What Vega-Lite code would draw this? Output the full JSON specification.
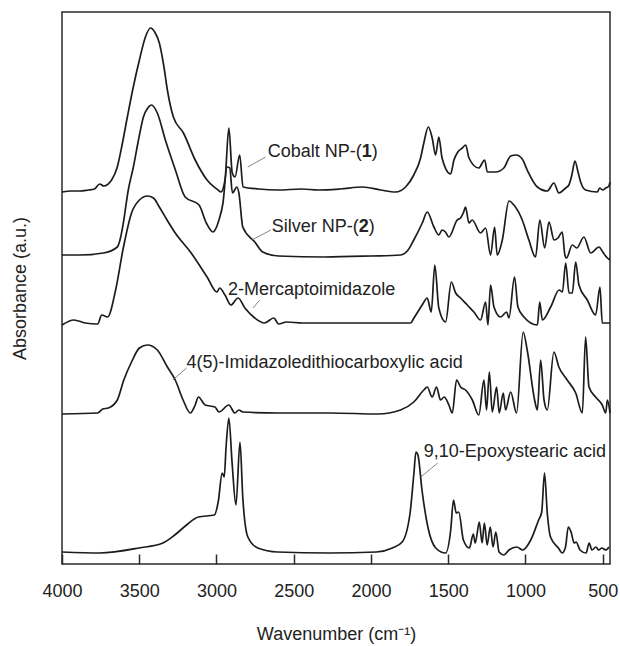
{
  "$schema": "https://vega.github.io/schema/vega-lite/v6.json",
  "width": 548,
  "height": 552,
  "autosize": {"type": "none"},
  "padding": {"left": 62, "top": 12, "right": 10, "bottom": 82},
  "background": "white",
  "config": {
    "view": {"stroke": "#2a2a2a", "strokeWidth": 1.5},
    "font": "Liberation Sans",
    "axis": {"labelFont": "Liberation Sans", "titleFont": "Liberation Sans", "labelFontSize": 18, "titleFontSize": 18, "titleFontWeight": "normal", "labelColor": "#222", "titleColor": "#222", "grid": false, "domain": false}
  },
  "datasets": {
    "spectra": [
      {"s":"cobalt","w":4000,"a":372},{"s":"cobalt","w":3940,"a":373},{"s":"cobalt","w":3885,"a":373},{"s":"cobalt","w":3830,"a":374},{"s":"cobalt","w":3790,"a":375},{"s":"cobalt","w":3756,"a":380},{"s":"cobalt","w":3730,"a":378},{"s":"cobalt","w":3679,"a":384},{"s":"cobalt","w":3642,"a":397},{"s":"cobalt","w":3610,"a":420},{"s":"cobalt","w":3577,"a":447},{"s":"cobalt","w":3540,"a":476},{"s":"cobalt","w":3499,"a":504},{"s":"cobalt","w":3460,"a":527},{"s":"cobalt","w":3427,"a":536},{"s":"cobalt","w":3400,"a":532},{"s":"cobalt","w":3370,"a":521},{"s":"cobalt","w":3340,"a":497},{"s":"cobalt","w":3318,"a":474},{"s":"cobalt","w":3279,"a":447},{"s":"cobalt","w":3214,"a":431},{"s":"cobalt","w":3138,"a":404},{"s":"cobalt","w":3061,"a":384},{"s":"cobalt","w":2990,"a":374},{"s":"cobalt","w":2971,"a":372},{"s":"cobalt","w":2945,"a":384},{"s":"cobalt","w":2920,"a":436},{"s":"cobalt","w":2898,"a":391},{"s":"cobalt","w":2880,"a":387},{"s":"cobalt","w":2850,"a":409},{"s":"cobalt","w":2828,"a":377},{"s":"cobalt","w":2727,"a":375},{"s":"cobalt","w":2600,"a":374},{"s":"cobalt","w":2450,"a":375},{"s":"cobalt","w":2340,"a":374},{"s":"cobalt","w":2200,"a":375},{"s":"cobalt","w":2054,"a":377},{"s":"cobalt","w":1938,"a":374},{"s":"cobalt","w":1841,"a":372},{"s":"cobalt","w":1776,"a":377},{"s":"cobalt","w":1723,"a":389},{"s":"cobalt","w":1679,"a":406},{"s":"cobalt","w":1658,"a":421},{"s":"cobalt","w":1629,"a":437},{"s":"cobalt","w":1604,"a":426},{"s":"cobalt","w":1582,"a":409},{"s":"cobalt","w":1561,"a":427},{"s":"cobalt","w":1540,"a":406},{"s":"cobalt","w":1485,"a":390},{"s":"cobalt","w":1463,"a":404},{"s":"cobalt","w":1438,"a":412},{"s":"cobalt","w":1409,"a":416},{"s":"cobalt","w":1387,"a":419},{"s":"cobalt","w":1366,"a":406},{"s":"cobalt","w":1303,"a":396},{"s":"cobalt","w":1264,"a":404},{"s":"cobalt","w":1247,"a":392},{"s":"cobalt","w":1194,"a":392},{"s":"cobalt","w":1140,"a":396},{"s":"cobalt","w":1096,"a":408},{"s":"cobalt","w":1060,"a":409},{"s":"cobalt","w":1021,"a":405},{"s":"cobalt","w":989,"a":394},{"s":"cobalt","w":923,"a":377},{"s":"cobalt","w":859,"a":373},{"s":"cobalt","w":816,"a":381},{"s":"cobalt","w":784,"a":371},{"s":"cobalt","w":740,"a":376},{"s":"cobalt","w":719,"a":379},{"s":"cobalt","w":700,"a":389},{"s":"cobalt","w":680,"a":403},{"s":"cobalt","w":660,"a":392},{"s":"cobalt","w":643,"a":382},{"s":"cobalt","w":611,"a":374},{"s":"cobalt","w":535,"a":372},{"s":"cobalt","w":520,"a":376},{"s":"cobalt","w":500,"a":374},{"s":"cobalt","w":480,"a":376},{"s":"cobalt","w":460,"a":378},{"s":"cobalt","w":453,"a":382},
      {"s":"silver","w":4000,"a":309},{"s":"silver","w":3885,"a":309},{"s":"silver","w":3732,"a":311},{"s":"silver","w":3642,"a":317},{"s":"silver","w":3620,"a":327},{"s":"silver","w":3603,"a":341},{"s":"silver","w":3571,"a":374},{"s":"silver","w":3538,"a":397},{"s":"silver","w":3505,"a":424},{"s":"silver","w":3473,"a":447},{"s":"silver","w":3445,"a":456},{"s":"silver","w":3421,"a":459},{"s":"silver","w":3383,"a":451},{"s":"silver","w":3331,"a":424},{"s":"silver","w":3266,"a":394},{"s":"silver","w":3203,"a":367},{"s":"silver","w":3113,"a":359},{"s":"silver","w":3066,"a":341},{"s":"silver","w":3023,"a":332},{"s":"silver","w":2984,"a":344},{"s":"silver","w":2958,"a":361},{"s":"silver","w":2932,"a":397},{"s":"silver","w":2914,"a":396},{"s":"silver","w":2897,"a":371},{"s":"silver","w":2868,"a":377},{"s":"silver","w":2855,"a":371},{"s":"silver","w":2830,"a":337},{"s":"silver","w":2752,"a":322},{"s":"silver","w":2701,"a":312},{"s":"silver","w":2598,"a":308},{"s":"silver","w":2300,"a":307},{"s":"silver","w":2000,"a":308},{"s":"silver","w":1809,"a":309},{"s":"silver","w":1760,"a":314},{"s":"silver","w":1723,"a":324},{"s":"silver","w":1668,"a":341},{"s":"silver","w":1636,"a":352},{"s":"silver","w":1593,"a":337},{"s":"silver","w":1561,"a":329},{"s":"silver","w":1540,"a":334},{"s":"silver","w":1518,"a":332},{"s":"silver","w":1496,"a":327},{"s":"silver","w":1442,"a":344},{"s":"silver","w":1420,"a":346},{"s":"silver","w":1400,"a":352},{"s":"silver","w":1388,"a":357},{"s":"silver","w":1366,"a":341},{"s":"silver","w":1345,"a":344},{"s":"silver","w":1291,"a":331},{"s":"silver","w":1258,"a":336},{"s":"silver","w":1226,"a":309},{"s":"silver","w":1200,"a":337},{"s":"silver","w":1183,"a":309},{"s":"silver","w":1150,"a":324},{"s":"silver","w":1107,"a":363},{"s":"silver","w":1075,"a":359},{"s":"silver","w":1021,"a":344},{"s":"silver","w":978,"a":324},{"s":"silver","w":935,"a":307},{"s":"silver","w":907,"a":344},{"s":"silver","w":876,"a":316},{"s":"silver","w":848,"a":342},{"s":"silver","w":815,"a":324},{"s":"silver","w":790,"a":326},{"s":"silver","w":762,"a":332},{"s":"silver","w":745,"a":309},{"s":"silver","w":735,"a":306},{"s":"silver","w":697,"a":319},{"s":"silver","w":668,"a":316},{"s":"silver","w":622,"a":327},{"s":"silver","w":578,"a":311},{"s":"silver","w":524,"a":317},{"s":"silver","w":500,"a":312},{"s":"silver","w":470,"a":306},{"s":"silver","w":453,"a":304},
      {"s":"merc","w":4000,"a":239},{"s":"merc","w":3923,"a":244},{"s":"merc","w":3850,"a":241},{"s":"merc","w":3769,"a":240},{"s":"merc","w":3743,"a":249},{"s":"merc","w":3705,"a":247},{"s":"merc","w":3653,"a":274},{"s":"merc","w":3602,"a":317},{"s":"merc","w":3550,"a":351},{"s":"merc","w":3499,"a":364},{"s":"merc","w":3447,"a":368},{"s":"merc","w":3408,"a":366},{"s":"merc","w":3370,"a":357},{"s":"merc","w":3320,"a":344},{"s":"merc","w":3267,"a":331},{"s":"merc","w":3164,"a":311},{"s":"merc","w":3061,"a":287},{"s":"merc","w":2997,"a":272},{"s":"merc","w":2980,"a":276},{"s":"merc","w":2945,"a":269},{"s":"merc","w":2907,"a":259},{"s":"merc","w":2860,"a":266},{"s":"merc","w":2816,"a":256},{"s":"merc","w":2752,"a":246},{"s":"merc","w":2690,"a":241},{"s":"merc","w":2629,"a":246},{"s":"merc","w":2598,"a":240},{"s":"merc","w":2547,"a":242},{"s":"merc","w":2443,"a":241},{"s":"merc","w":2200,"a":241},{"s":"merc","w":1938,"a":241},{"s":"merc","w":1744,"a":241},{"s":"merc","w":1722,"a":246},{"s":"merc","w":1669,"a":259},{"s":"merc","w":1636,"a":266},{"s":"merc","w":1610,"a":252},{"s":"merc","w":1587,"a":299},{"s":"merc","w":1561,"a":256},{"s":"merc","w":1517,"a":242},{"s":"merc","w":1480,"a":282},{"s":"merc","w":1452,"a":271},{"s":"merc","w":1420,"a":266},{"s":"merc","w":1377,"a":259},{"s":"merc","w":1334,"a":252},{"s":"merc","w":1291,"a":244},{"s":"merc","w":1258,"a":262},{"s":"merc","w":1243,"a":239},{"s":"merc","w":1226,"a":279},{"s":"merc","w":1204,"a":257},{"s":"merc","w":1161,"a":247},{"s":"merc","w":1122,"a":252},{"s":"merc","w":1107,"a":246},{"s":"merc","w":1071,"a":287},{"s":"merc","w":1049,"a":257},{"s":"merc","w":1010,"a":247},{"s":"merc","w":923,"a":239},{"s":"merc","w":908,"a":262},{"s":"merc","w":891,"a":244},{"s":"merc","w":837,"a":257},{"s":"merc","w":782,"a":274},{"s":"merc","w":761,"a":272},{"s":"merc","w":740,"a":301},{"s":"merc","w":718,"a":271},{"s":"merc","w":697,"a":271},{"s":"merc","w":675,"a":302},{"s":"merc","w":654,"a":279},{"s":"merc","w":600,"a":264},{"s":"merc","w":546,"a":249},{"s":"merc","w":518,"a":277},{"s":"merc","w":503,"a":241},{"s":"merc","w":453,"a":241},
      {"s":"imid","w":4000,"a":150},{"s":"imid","w":3769,"a":151},{"s":"imid","w":3736,"a":155},{"s":"imid","w":3700,"a":156},{"s":"imid","w":3642,"a":164},{"s":"imid","w":3600,"a":184},{"s":"imid","w":3550,"a":202},{"s":"imid","w":3499,"a":216},{"s":"imid","w":3447,"a":219},{"s":"imid","w":3383,"a":214},{"s":"imid","w":3318,"a":197},{"s":"imid","w":3267,"a":184},{"s":"imid","w":3216,"a":164},{"s":"imid","w":3169,"a":151},{"s":"imid","w":3138,"a":159},{"s":"imid","w":3117,"a":167},{"s":"imid","w":3074,"a":159},{"s":"imid","w":3010,"a":157},{"s":"imid","w":2984,"a":152},{"s":"imid","w":2920,"a":159},{"s":"imid","w":2881,"a":151},{"s":"imid","w":2855,"a":154},{"s":"imid","w":2830,"a":152},{"s":"imid","w":2598,"a":151},{"s":"imid","w":2262,"a":151},{"s":"imid","w":1954,"a":150},{"s":"imid","w":1809,"a":154},{"s":"imid","w":1723,"a":162},{"s":"imid","w":1658,"a":174},{"s":"imid","w":1636,"a":177},{"s":"imid","w":1604,"a":167},{"s":"imid","w":1576,"a":177},{"s":"imid","w":1550,"a":164},{"s":"imid","w":1526,"a":167},{"s":"imid","w":1496,"a":159},{"s":"imid","w":1474,"a":151},{"s":"imid","w":1446,"a":184},{"s":"imid","w":1420,"a":177},{"s":"imid","w":1388,"a":174},{"s":"imid","w":1344,"a":164},{"s":"imid","w":1302,"a":149},{"s":"imid","w":1269,"a":184},{"s":"imid","w":1252,"a":154},{"s":"imid","w":1234,"a":192},{"s":"imid","w":1215,"a":152},{"s":"imid","w":1187,"a":177},{"s":"imid","w":1170,"a":151},{"s":"imid","w":1144,"a":171},{"s":"imid","w":1129,"a":154},{"s":"imid","w":1096,"a":172},{"s":"imid","w":1058,"a":151},{"s":"imid","w":1015,"a":232},{"s":"imid","w":989,"a":214},{"s":"imid","w":941,"a":164},{"s":"imid","w":923,"a":154},{"s":"imid","w":902,"a":204},{"s":"imid","w":880,"a":164},{"s":"imid","w":859,"a":154},{"s":"imid","w":816,"a":212},{"s":"imid","w":784,"a":197},{"s":"imid","w":730,"a":184},{"s":"imid","w":675,"a":171},{"s":"imid","w":632,"a":151},{"s":"imid","w":611,"a":227},{"s":"imid","w":589,"a":177},{"s":"imid","w":546,"a":167},{"s":"imid","w":503,"a":159},{"s":"imid","w":481,"a":151},{"s":"imid","w":470,"a":164},{"s":"imid","w":453,"a":151},
      {"s":"epoxy","w":4000,"a":12},{"s":"epoxy","w":3757,"a":11},{"s":"epoxy","w":3501,"a":16},{"s":"epoxy","w":3347,"a":21},{"s":"epoxy","w":3270,"a":29},{"s":"epoxy","w":3194,"a":39},{"s":"epoxy","w":3117,"a":47},{"s":"epoxy","w":3014,"a":49},{"s":"epoxy","w":2989,"a":62},{"s":"epoxy","w":2963,"a":91},{"s":"epoxy","w":2950,"a":87},{"s":"epoxy","w":2938,"a":117},{"s":"epoxy","w":2920,"a":146},{"s":"epoxy","w":2899,"a":101},{"s":"epoxy","w":2874,"a":59},{"s":"epoxy","w":2848,"a":122},{"s":"epoxy","w":2830,"a":67},{"s":"epoxy","w":2797,"a":27},{"s":"epoxy","w":2733,"a":16},{"s":"epoxy","w":2605,"a":12},{"s":"epoxy","w":2272,"a":11},{"s":"epoxy","w":1965,"a":12},{"s":"epoxy","w":1862,"a":16},{"s":"epoxy","w":1798,"a":22},{"s":"epoxy","w":1747,"a":51},{"s":"epoxy","w":1722,"a":91},{"s":"epoxy","w":1709,"a":112},{"s":"epoxy","w":1696,"a":109},{"s":"epoxy","w":1670,"a":74},{"s":"epoxy","w":1632,"a":37},{"s":"epoxy","w":1581,"a":16},{"s":"epoxy","w":1517,"a":11},{"s":"epoxy","w":1484,"a":34},{"s":"epoxy","w":1466,"a":64},{"s":"epoxy","w":1448,"a":51},{"s":"epoxy","w":1432,"a":52},{"s":"epoxy","w":1402,"a":24},{"s":"epoxy","w":1363,"a":16},{"s":"epoxy","w":1338,"a":30},{"s":"epoxy","w":1325,"a":21},{"s":"epoxy","w":1299,"a":42},{"s":"epoxy","w":1281,"a":21},{"s":"epoxy","w":1266,"a":41},{"s":"epoxy","w":1248,"a":19},{"s":"epoxy","w":1228,"a":37},{"s":"epoxy","w":1210,"a":17},{"s":"epoxy","w":1192,"a":32},{"s":"epoxy","w":1171,"a":12},{"s":"epoxy","w":1140,"a":9},{"s":"epoxy","w":1107,"a":14},{"s":"epoxy","w":1056,"a":17},{"s":"epoxy","w":1018,"a":14},{"s":"epoxy","w":966,"a":24},{"s":"epoxy","w":915,"a":44},{"s":"epoxy","w":895,"a":52},{"s":"epoxy","w":877,"a":91},{"s":"epoxy","w":859,"a":51},{"s":"epoxy","w":838,"a":27},{"s":"epoxy","w":787,"a":16},{"s":"epoxy","w":762,"a":11},{"s":"epoxy","w":741,"a":17},{"s":"epoxy","w":723,"a":37},{"s":"epoxy","w":705,"a":32},{"s":"epoxy","w":685,"a":21},{"s":"epoxy","w":672,"a":22},{"s":"epoxy","w":647,"a":14},{"s":"epoxy","w":608,"a":11},{"s":"epoxy","w":588,"a":21},{"s":"epoxy","w":570,"a":14},{"s":"epoxy","w":544,"a":17},{"s":"epoxy","w":526,"a":14},{"s":"epoxy","w":506,"a":16},{"s":"epoxy","w":480,"a":14},{"s":"epoxy","w":460,"a":17}
    ],
    "leaders": [
      {"w":2797,"a":397,"w2":2682,"a2":407},
      {"w":2771,"a":324,"w2":2648,"a2":334},
      {"w":2764,"a":256,"w2":2720,"a2":264},
      {"w":3283,"a":184,"w2":3194,"a2":196},
      {"w":1678,"a":87,"w2":1568,"a2":101}
    ],
    "labels": [
      {"w":2669,"a":412,"t":"Cobalt NP-("},
      {"w":1995,"a":412,"t":")"},
      {"w":2643,"a":337,"t":"Silver NP-("},
      {"w":2015,"a":337,"t":")"},
      {"w":2925,"a":274,"t":"2-Mercaptoimidazole"},
      {"w":3194,"a":201,"t":"4(5)-Imidazoledithiocarboxylic acid"},
      {"w":1658,"a":112,"t":"9,10-Epoxystearic acid"}
    ],
    "bold": [
      {"w":2060,"a":412,"t":"1"},
      {"w":2080,"a":337,"t":"2"}
    ]
  },
  "layer": [
    {
      "data": {"name": "spectra"},
      "mark": {"type": "line", "color": "#1c1c1c", "strokeWidth": 1.7, "strokeJoin": "round", "interpolate": "monotone"},
      "encoding": {
        "x": {"field": "w", "type": "quantitative", "scale": {"domain": [4000, 453], "nice": false, "zero": false},
          "axis": {"values": [4000, 3500, 3000, 2500, 2000, 1500, 1000, 500], "format": "d", "tickSize": -10, "tickColor": "#2a2a2a", "tickWidth": 1.5, "labelPadding": 28, "labelFlush": false, "title": "Wavenumber (cm⁻¹)", "titleBaseline": "alphabetic", "titleY": 75}},
        "y": {"field": "a", "type": "quantitative", "scale": {"domain": [0, 552], "nice": false, "zero": false},
          "axis": {"ticks": false, "labels": false, "title": "Absorbance (a.u.)", "titleBaseline": "alphabetic", "titleX": -37}},
        "detail": {"field": "s"}
      }
    },
    {
      "data": {"name": "leaders"},
      "mark": {"type": "rule", "color": "#666", "strokeWidth": 0.8},
      "encoding": {
        "x": {"field": "w", "type": "quantitative"},
        "y": {"field": "a", "type": "quantitative"},
        "x2": {"field": "w2"},
        "y2": {"field": "a2"}
      }
    },
    {
      "data": {"name": "labels"},
      "mark": {"type": "text", "align": "left", "baseline": "middle", "fontSize": 18, "font": "Liberation Sans", "color": "#222"},
      "encoding": {
        "x": {"field": "w", "type": "quantitative"},
        "y": {"field": "a", "type": "quantitative"},
        "text": {"field": "t"}
      }
    },
    {
      "data": {"name": "bold"},
      "mark": {"type": "text", "align": "left", "baseline": "middle", "fontSize": 18, "font": "Liberation Sans", "fontWeight": "bold", "color": "#222"},
      "encoding": {
        "x": {"field": "w", "type": "quantitative"},
        "y": {"field": "a", "type": "quantitative"},
        "text": {"field": "t"}
      }
    }
  ]
}
